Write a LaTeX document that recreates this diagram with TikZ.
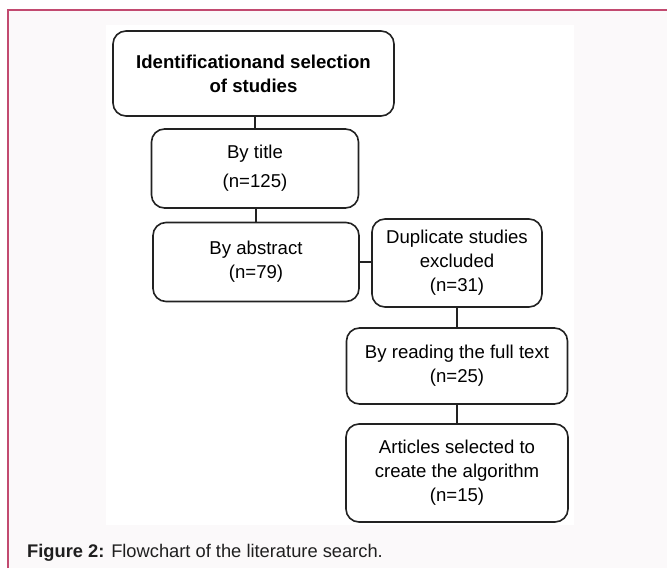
\documentclass[tikz,border=0pt]{standalone}
\usepackage{fontspec}
\setmainfont{Liberation Sans}
\definecolor{pagebg}{HTML}{FBF9FA}
\definecolor{framered}{HTML}{C24A70}
\definecolor{boxline}{HTML}{222222}

\begin{document}
\begin{tikzpicture}[x=1pt,y=-1pt,
  box/.style={draw=boxline,line width=1.6pt,rounded corners=13pt,align=center,
    inner sep=0pt,font=\fontsize{18.6}{24}\selectfont},
  link/.style={draw=boxline,line width=2pt}]
\useasboundingbox (0,0) rectangle (667,568);
\fill[white] (0,0) rectangle (667,568);
\fill[pagebg] (8,10) rectangle (667,568);
\draw[framered,line width=2pt] (8,568) -- (8,10) -- (667,10);
\fill[white] (106,25) rectangle (574,525);
% boxes
\node[box,minimum width=281pt,minimum height=85pt] (ident) at (253.5,73.5)
  {\textbf{Identificationand selection}\\\textbf{of studies}};
\node[box,minimum width=207pt,minimum height=79pt] (title) at (255,168.5)
  {By title\\[5pt](n=125)};
\node[box,minimum width=206pt,minimum height=79pt] (abstract) at (256,262)
  {By abstract\\(n=79)};
\node[box,minimum width=170pt,minimum height=88pt] (dup) at (457,263)
  {Duplicate studies\\excluded\\(n=31)};
\node[box,minimum width=221pt,minimum height=76pt] (reading) at (457,366)
  {By reading the full text\\(n=25)};
\node[box,minimum width=222pt,minimum height=98pt] (articles) at (457,473)
  {Articles selected to\\create the algorithm\\(n=15)};
% connectors
\draw[link] (title.north) -- (title.north |- ident.south);
\draw[link] (abstract.north) -- (abstract.north |- title.south);
\draw[link] (abstract.east) -- (abstract.east -| dup.west);
\draw[link] (reading.north) -- (reading.north |- dup.south);
\draw[link] (articles.north) -- (articles.north |- reading.south);
% caption
\node[anchor=base west,inner sep=0pt,font=\fontsize{18.3}{24}\selectfont,text=black!88] (caption) at (27,557)
  {\textbf{Figure 2:} Flowchart of the literature search.};
\end{tikzpicture}
\end{document}
